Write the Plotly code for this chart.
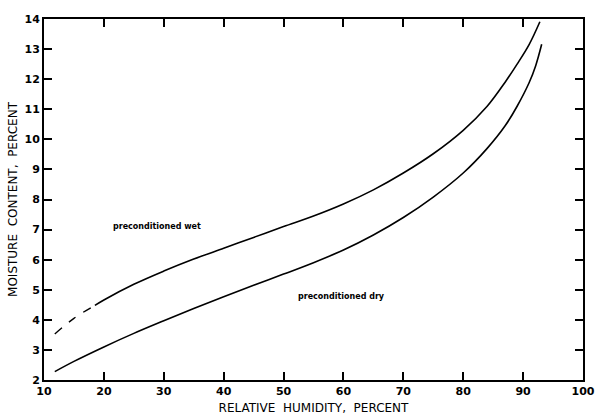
import plotly.graph_objects as go

# Relative humidity (%) and moisture content (%)
wet_dash_x = [11.8, 15, 18.5]
wet_dash_y = [3.53, 4.05, 4.48]

wet_x = [18.5, 20, 25, 30, 35, 40, 45, 50, 55, 60, 65, 70, 75, 80, 84, 87, 89, 91, 92.8]
wet_y = [4.48, 4.66, 5.18, 5.62, 6.02, 6.38, 6.74, 7.1, 7.45, 7.85, 8.32, 8.88, 9.52, 10.3, 11.1, 11.9, 12.5, 13.15, 13.91]

dry_x = [11.8, 15, 20, 25, 30, 35, 40, 45, 50, 55, 60, 65, 70, 75, 80, 84, 87, 89, 91, 92.1, 93.1]
dry_y = [2.28, 2.62, 3.1, 3.55, 3.97, 4.38, 4.77, 5.15, 5.52, 5.9, 6.32, 6.82, 7.4, 8.08, 8.88, 9.7, 10.45, 11.1, 11.88, 12.45, 13.16]

x_ticks = [10, 20, 30, 40, 50, 60, 70, 80, 90, 100]
y_ticks = list(range(2, 15))

labels = ["preconditioned wet", "preconditioned dry"]
label_x = [28.8, 59.7]
label_y = [7.1, 4.79]

fig = go.Figure()
line = dict(color="black", width=1.6, shape="spline", smoothing=1.0)
fig.add_trace(go.Scatter(x=wet_dash_x, y=wet_dash_y, mode="lines",
                         line=dict(color="black", width=1.4, dash="dash", shape="spline"),
                         showlegend=False))
fig.add_trace(go.Scatter(x=wet_x, y=wet_y, mode="lines", line=line, showlegend=False))
fig.add_trace(go.Scatter(x=dry_x, y=dry_y, mode="lines", line=line, showlegend=False))

for t, lx, ly in zip(labels, label_x, label_y):
    fig.add_annotation(x=lx, y=ly, text=t, showarrow=False,
                       font=dict(family="DejaVu Sans", size=8, color="black", weight="bold"))

axis_common = dict(showgrid=False, zeroline=False, showline=True, linecolor="black",
                   linewidth=2, mirror="allticks", ticks="inside", ticklen=8,
                   tickwidth=2, tickcolor="black", automargin=False,
                   tickfont=dict(family="DejaVu Sans", size=11, color="black", weight="bold"))

fig.update_xaxes(range=[10, 100], tickmode="array", tickvals=x_ticks,
                 ticktext=[str(v) for v in x_ticks],
                 title=dict(text="RELATIVE  HUMIDITY,  PERCENT", standoff=6,
                            font=dict(family="DejaVu Sans", size=12, color="black")),
                 **axis_common)
fig.update_yaxes(range=[2, 14], tickmode="array", tickvals=y_ticks,
                 ticktext=[str(v) for v in y_ticks],
                 title=dict(text="MOISTURE  CONTENT,  PERCENT", standoff=4,
                            font=dict(family="DejaVu Sans", size=12, color="black")),
                 **axis_common)

fig.update_layout(width=599, height=419, margin=dict(l=44, r=16, t=19, b=39),
                  paper_bgcolor="white", plot_bgcolor="white", template="none")

fig.write_html("out.html")
